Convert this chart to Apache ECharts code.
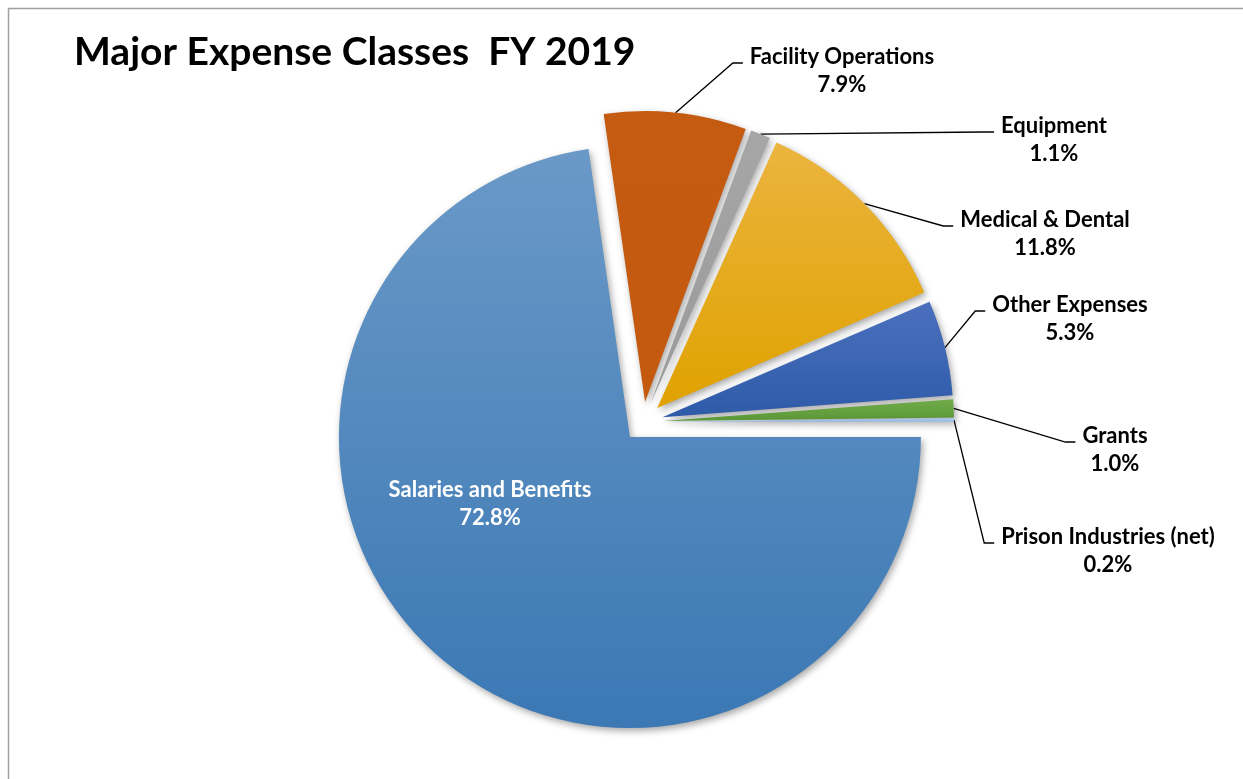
<!DOCTYPE html>
<html>
<head>
<meta charset="utf-8">
<script src="https://cdn.jsdelivr.net/npm/echarts@6/dist/echarts.min.js"></script>
<style>
html, body { margin: 0; padding: 0; background: #fff; }
#main { width: 1243px; height: 779px; }
</style>
</head>
<body>
<div id="main"></div>
<script>
var categories = ['Salaries and Benefits', 'Facility Operations', 'Equipment', 'Medical & Dental',
	'Other Expenses', 'Grants', 'Prison Industries (net)'];
var shares = [72.8, 7.9, 1.1, 11.8, 5.3, 1.0, 0.2];

// top / bottom of each slice's shading
var colorsTop = ['#6a99c7', '#c55a11', '#a6a6a6', '#ebb43e', '#4b70bd', '#71ab4a', '#a9cbeb'];
var colorsBottom = ['#3b78b4', '#c45910', '#9a9a9a', '#e0a200', '#2e5ba8', '#5b9837', '#93b9e2'];

// where the label texts sit (centre of the two lines)
var labelSpots = [[490, 504], [842, 71], [1054, 140], [1045, 234], [1070, 319], [1115, 450], [1108, 551]];

var pieCenter = [643, 422];
var pieRadius = 291;
var explode = 20;

var chart = echarts.init(document.getElementById('main'));

// slices, all pulled out a little
var sliceData = categories.map(function (name, i) {
	return {
		name: name,
		value: shares[i],
		selected: true,
		itemStyle: {
			color: new echarts.graphic.LinearGradient(0, 0, 0, 1, [
				{offset: 0, color: colorsTop[i]},
				{offset: 1, color: colorsBottom[i]}
			])
		}
	};
});

// same slices again, invisible, only to carry the labels
var labelData = categories.map(function (name, i) {
	return {
		name: name,
		value: shares[i],
		label: i === 0 ? {position: 'inside', color: '#fff'} : {},
		labelLine: {show: i !== 0}
	};
});

chart.setOption({
	animation: false,
	title: {
		text: 'Major Expense Classes  FY 2019',
		left: 69,
		top: 28,
		textStyle: {
			fontFamily: 'Lato',
			fontWeight: 'bold',
			fontSize: 39,
			color: '#000'
		}
	},
	graphic: [{
		type: 'rect',
		silent: true,
		shape: {x: 8.5, y: 8.5, width: 1400, height: 900},
		style: {fill: 'none', stroke: '#a0a0a0', lineWidth: 1.5}
	}],
	series: [{
		type: 'pie',
		center: pieCenter,
		radius: pieRadius,
		startAngle: 0,
		clockwise: true,
		selectedMode: 'multiple',
		selectedOffset: explode,
		emphasis: {disabled: true},
		select: {itemStyle: {borderWidth: 0}},
		itemStyle: {
			shadowBlur: 7,
			shadowOffsetX: 2,
			shadowOffsetY: 3,
			shadowColor: 'rgba(0,0,0,0.35)'
		},
		label: {show: false},
		labelLine: {show: false},
		data: sliceData
	}, {
		type: 'pie',
		silent: true,
		center: pieCenter,
		radius: pieRadius,
		startAngle: 0,
		clockwise: true,
		avoidLabelOverlap: false,
		emphasis: {disabled: true},
		itemStyle: {color: 'rgba(0,0,0,0)'},
		label: {
			show: true,
			position: 'outside',
			formatter: function (p) {
				return p.name + '\n' + shares[p.dataIndex].toFixed(1) + '%';
			},
			fontFamily: 'Lato',
			fontWeight: 'bold',
			fontSize: 22,
			lineHeight: 28,
			color: '#000',
			align: 'center'
		},
		labelLine: {
			show: true,
			lineStyle: {color: '#000', width: 1.3}
		},
		labelLayout: function (p) {
			var spot = labelSpots[p.dataIndex];
			var out = {x: spot[0], y: spot[1], align: 'center', verticalAlign: 'middle'};
			if (p.dataIndex > 0 && p.labelLinePoints) {
				// start where the pulled-out slice's edge is
				var a = p.labelLinePoints[0];
				var dx = a[0] - pieCenter[0], dy = a[1] - pieCenter[1];
				var d = Math.sqrt(dx * dx + dy * dy);
				var start = [a[0] + dx / d * explode, a[1] + dy / d * explode];
				var left = spot[0] - p.labelRect.width / 2 - 7;
				var ly = spot[1] - 8;
				out.labelLinePoints = [start, [left - 10, ly], [left, ly]];
			}
			return out;
		},
		data: labelData
	}]
});
</script>
</body>
</html>
